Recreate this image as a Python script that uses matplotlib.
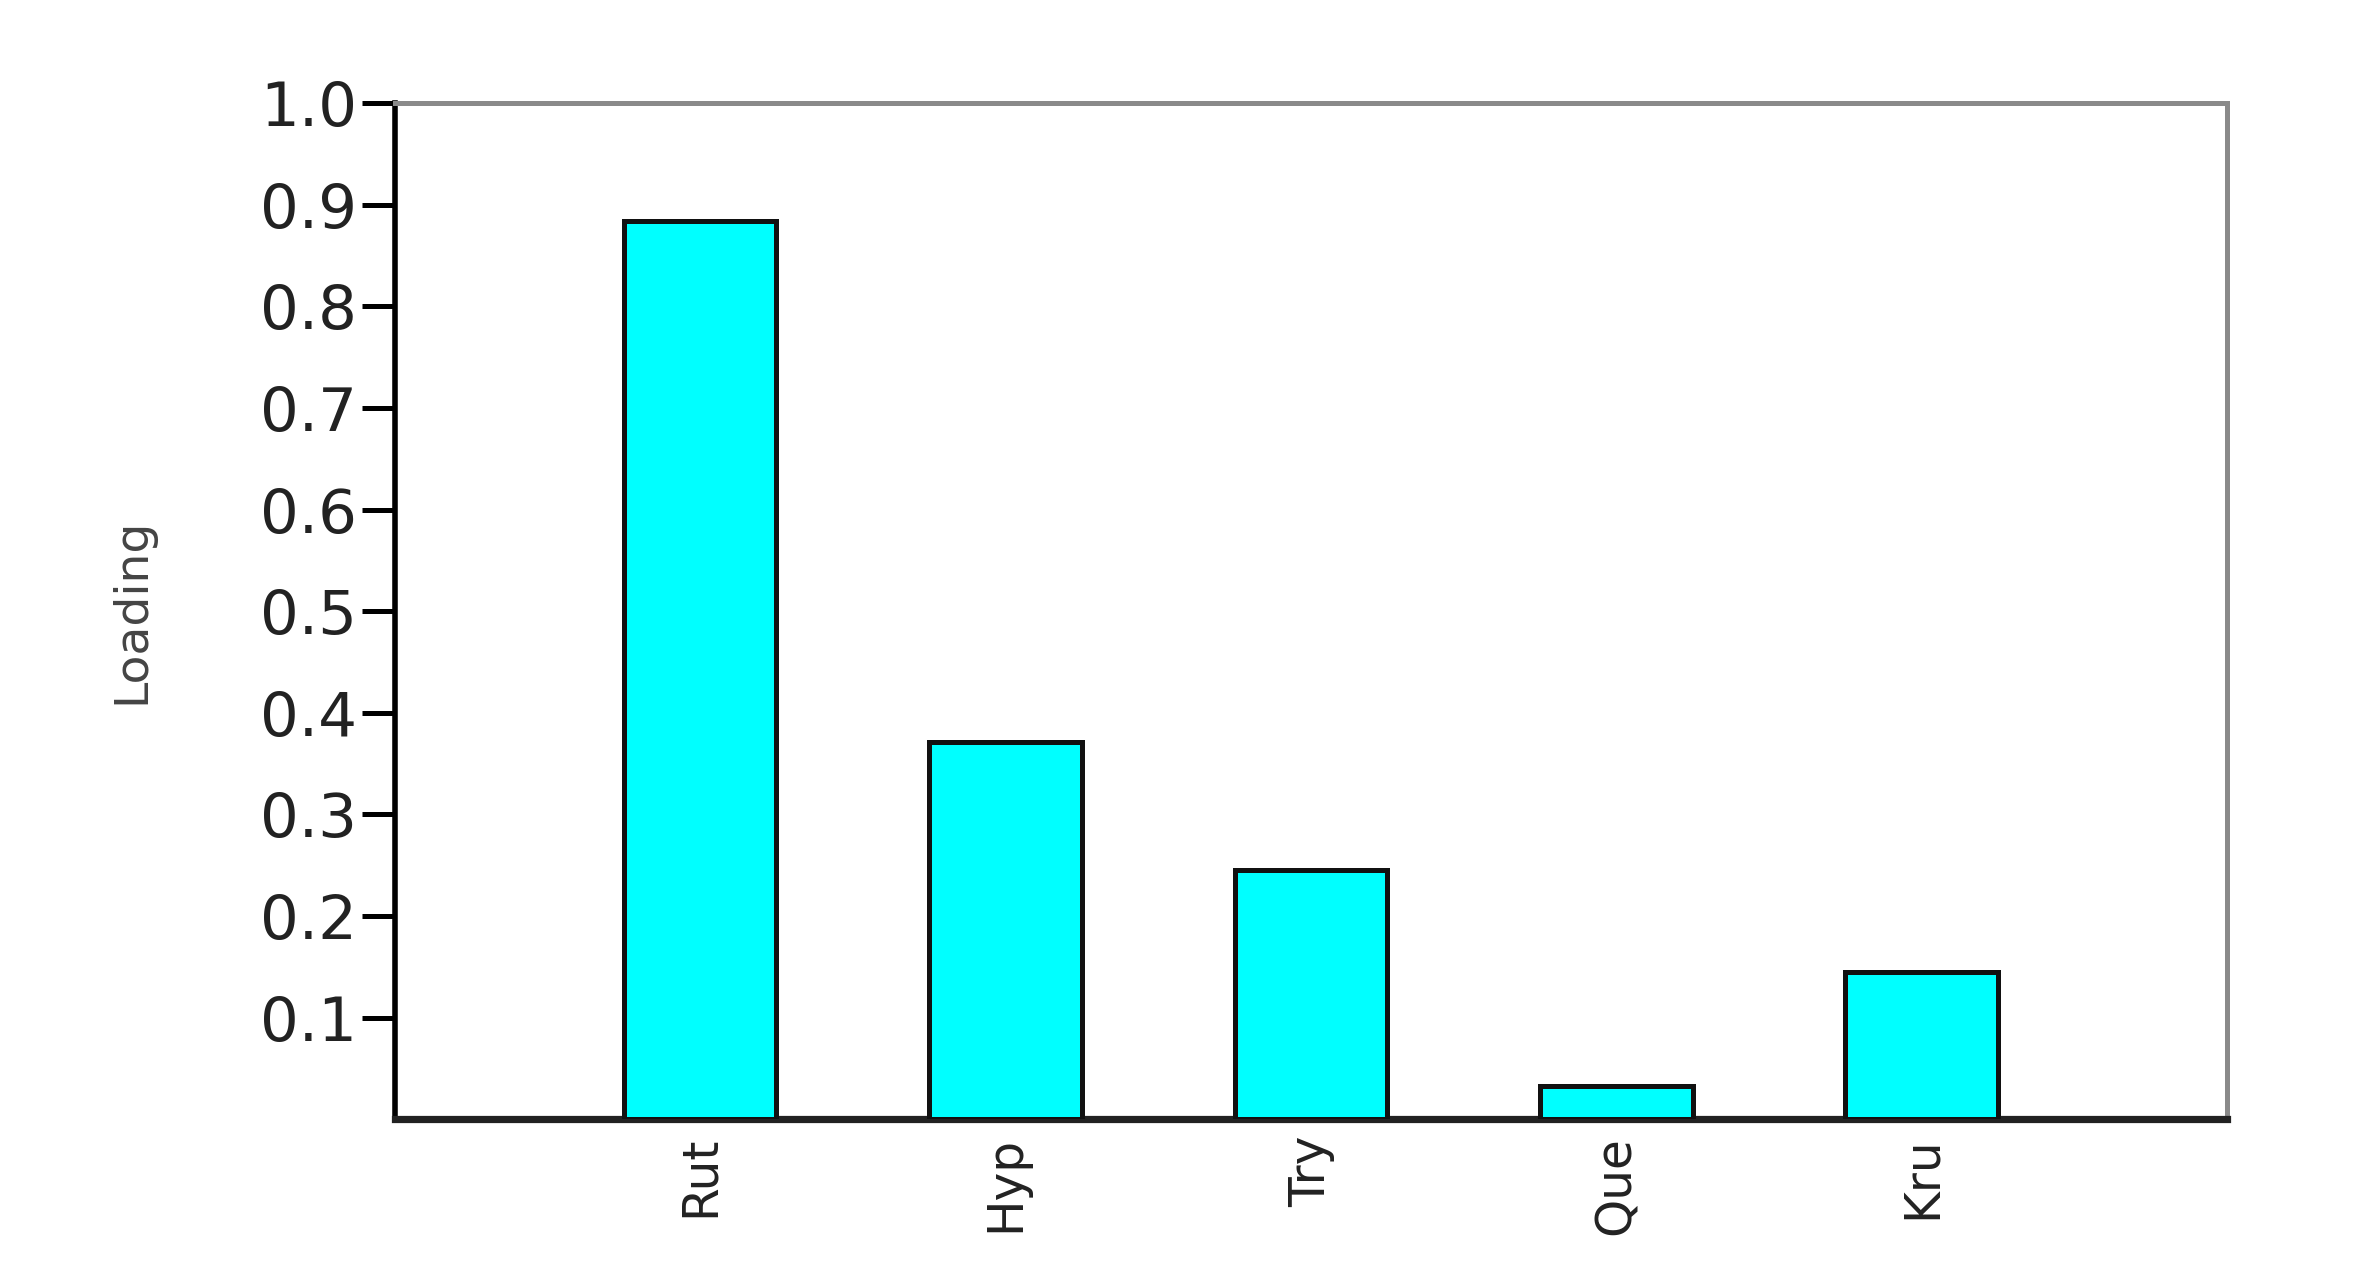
import matplotlib.pyplot as plt
import numpy as np

# Loadings
categories = ["Rut", "Hyp", "Try", "Que", "Kru"]
loadings = [0.884, 0.371, 0.245, 0.033, 0.145]
yticks = [0.1, 0.2, 0.3, 0.4, 0.5, 0.6, 0.7, 0.8, 0.9, 1.0]

plt.rcParams["font.family"] = "DejaVu Sans"

fig = plt.figure(figsize=(11.82, 6.44), dpi=200)
ax = fig.add_axes([0.167, 0.131, 0.775, 0.789])

x = np.arange(1, len(categories) + 1)
ax.bar(x, loadings, width=0.5, color="#00ffff", edgecolor="#111111", linewidth=1.8, zorder=3)

ax.set_xlim(0, 6)
ax.set_ylim(0, 1.0)
ax.set_xticks(x)
ax.set_xticklabels(categories, rotation=90, fontsize=17.5, color="#222222")
ax.set_yticks(yticks)
ax.set_yticklabels([f"{v:.1f}" for v in yticks], fontsize=22, color="#222222")

ax.tick_params(axis="x", length=0, pad=6)
ax.tick_params(axis="y", direction="out", length=12, width=1.8, pad=1.5, color="black")

ax.spines["left"].set_linewidth(2.0)
ax.spines["bottom"].set_linewidth(2.6)
ax.spines["left"].set_color("black")
ax.spines["bottom"].set_color("#222222")
for side in ["top", "right"]:
    ax.spines[side].set_color("#8a8a8a")
    ax.spines[side].set_linewidth(1.8)

ax.set_ylabel("Loading", fontsize=17, color="#444444", labelpad=38)

fig.savefig("out.png", dpi=200)
